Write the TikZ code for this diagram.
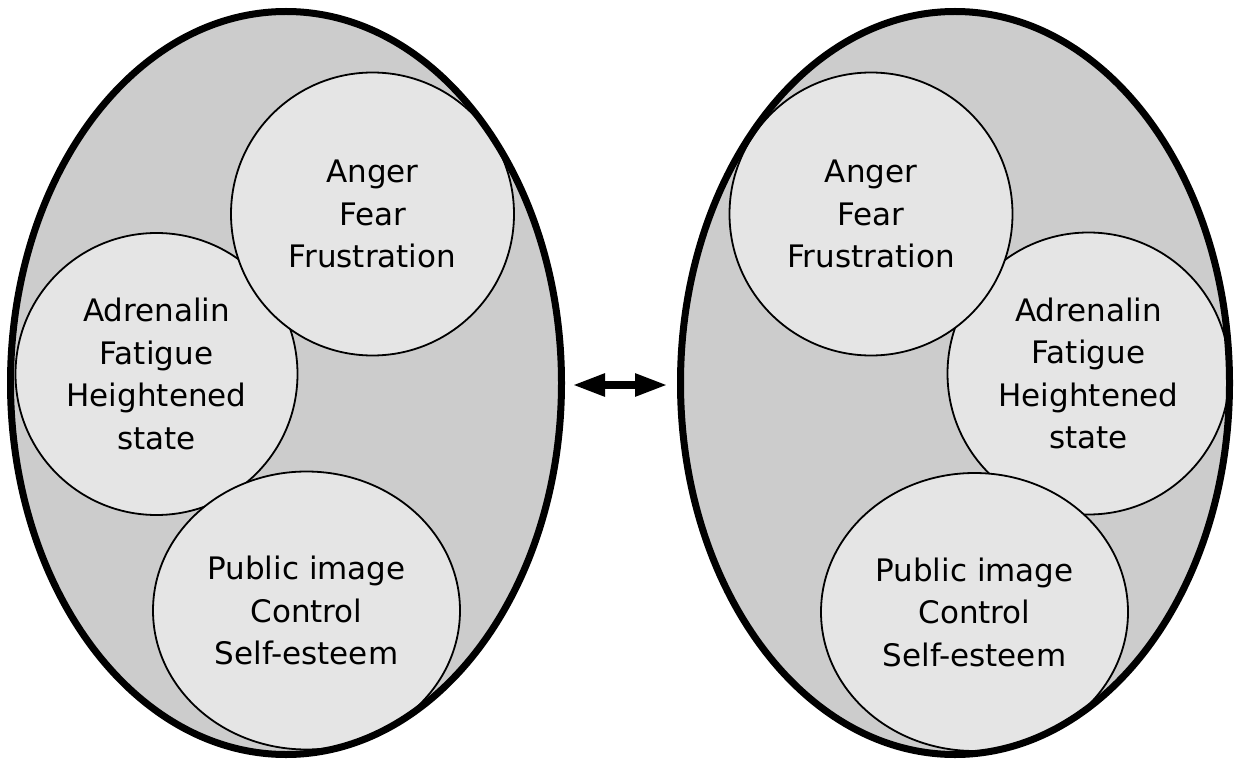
\documentclass[tikz,border=0pt]{standalone}
\usepackage{fontspec}
\setmainfont{DejaVu Sans}
\usetikzlibrary{shapes.geometric,arrows.meta}
\begin{document}
\begin{tikzpicture}[x=1pt,y=-1pt,
  outerfill/.style={ellipse, fill=black!20, draw=none, inner sep=0pt, minimum height=743pt},
  rim/.style={draw=black, line width=7pt},
  bubble/.style={circle, draw=black, line width=1.8pt, fill=black!10, inner sep=0pt,
    align=center, font=\fontsize{31}{42.5}\selectfont},
  oval/.style={bubble, ellipse, minimum width=307pt, minimum height=278pt},
  link/.style={line width=8pt, {Triangle[length=33pt,width=21pt]}-{Triangle[length=33pt,width=21pt]}}]
\useasboundingbox (0,0) rectangle (1234,762);
% outer regions (fill only)
\node[outerfill, minimum width=551pt] (L) at (286,383) {};
\node[outerfill, minimum width=549pt] (R) at (955,383) {};
% left group
\node[bubble, minimum size=282pt] (LB) at (156.5,374) {Adrenalin\\Fatigue\\Heightened\\state};
\node[bubble, minimum size=283pt] (LA) at (372.5,214) {Anger\\Fear\\Frustration};
\node[oval] (LC) at (306.5,610.5) {Public image\\Control\\Self-esteem};
% right group
\node[bubble, minimum size=282pt] (RB) at (1088.5,373.5) {Adrenalin\\Fatigue\\Heightened\\state};
\node[bubble, minimum size=283pt] (RA) at (871,214) {Anger\\Fear\\Frustration};
\node[oval] (RC) at (974.5,612) {Public image\\Control\\Self-esteem};
% outer rims on top
\draw[rim] (L.center) ellipse [x radius=275.5pt, y radius=371.5pt];
\draw[rim] (R.center) ellipse [x radius=274.5pt, y radius=371.5pt];
% double arrow
\coordinate (p) at (572,385);
\coordinate (q) at (668,385);
\draw[link] (p) -- (q);
\end{tikzpicture}
\end{document}
